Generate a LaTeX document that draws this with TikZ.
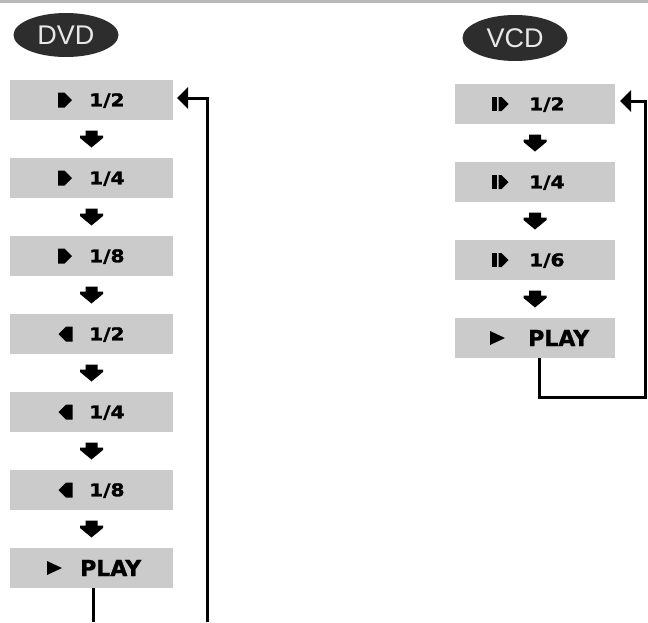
\documentclass[tikz,border=0pt]{standalone}
\usepackage{fontspec}
\setmainfont{DejaVu Sans}
\newfontfamily\ovalfont{Liberation Sans}
\newfontfamily\fracfont[FakeStretch=1.15,FakeBold=1.6]{DejaVu Sans}
\newfontfamily\playfont[FakeBold=1.2]{DejaVu Sans}
\usetikzlibrary{arrows.meta,calc,shapes.geometric}
\definecolor{boxgray}{RGB}{203,203,203}
\definecolor{ovalgray}{RGB}{45,45,45}
\definecolor{ovaltext}{RGB}{232,232,232}
\definecolor{bandgray}{RGB}{185,185,185}
\begin{document}
\begin{tikzpicture}[x=1pt,y=-1pt,
  dvdbox/.style={fill=boxgray,minimum width=163pt,minimum height=40pt,inner sep=0pt,outer sep=0pt},
  vcdbox/.style={fill=boxgray,minimum width=160pt,minimum height=40pt,inner sep=0pt,outer sep=0pt},
  oval/.style={ellipse,fill=ovalgray,text=ovaltext,inner sep=0pt,font=\ovalfont\fontsize{27}{27}\selectfont},
  frac/.style={anchor=west,inner sep=0pt,text height=12.5pt,text depth=0pt,font=\fracfont\bfseries\fontsize{17.5}{17.5}\selectfont},
  playtxt/.style={anchor=west,inner sep=0pt,text height=16pt,text depth=0pt,font=\playfont\bfseries\fontsize{22}{22}\selectfont},
  conn/.style={line width=3pt,draw=black},
  tip/.style={-{Triangle[length=11pt,width=21pt]}}
]
\useasboundingbox (0,0) rectangle (648,622);
\fill[bandgray] (0,0) rectangle (648,2.5);

% ovals
\node[oval,minimum width=105pt,minimum height=44pt] (dvd) at (66,35) {DVD};
\node[oval,minimum width=105pt,minimum height=46pt] (vcd) at (515,38) {VCD};

% DVD boxes
\foreach \i/\y in {1/100,2/178,3/256,4/334,5/412,6/490,7/568}
  \node[dvdbox] (d\i) at (91.5,\y) {};
\node[frac] (d1t) at (89,100) {1/2};
\node[frac] (d2t) at (89,178) {1/4};
\node[frac] (d3t) at (89,256) {1/8};
\node[frac] (d4t) at (89,334) {1/2};
\node[frac] (d5t) at (89,412) {1/4};
\node[frac] (d6t) at (89,490) {1/8};
\node[playtxt] (d7t) at (80,568) {PLAY};
% DVD symbols
\foreach \i in {1,2,3}
  \fill[shift={(d\i.center)},xshift=-33.5pt] (0,-7.5) -- (6.5,-7.5) -- (14,0) -- (6.5,7.5) -- (0,7.5) -- cycle;
\foreach \i in {4,5,6}
  \fill[shift={(d\i.center)},xshift=-19pt] (0,-7.5) -- (-6.5,-7.5) -- (-14,0) -- (-6.5,7.5) -- (0,7.5) -- cycle;
\fill[shift={(d7.center)},xshift=-44.5pt] (0,-7) -- (15,0) -- (0,7) -- cycle;

% VCD boxes
\foreach \i/\y in {1/104,2/182,3/260,4/338}
  \node[vcdbox] (v\i) at (535,\y) {};
\node[frac] (v1t) at (529,104) {1/2};
\node[frac] (v2t) at (529,182) {1/4};
\node[frac] (v3t) at (529,260) {1/6};
\node[playtxt] (v4t) at (528,338) {PLAY};
\foreach \i in {1,2,3}{
  \fill[shift={(v\i.center)},xshift=-43pt] (0,-7) rectangle (4.5,7);
  \fill[shift={(v\i.center)},xshift=-43pt] (6.5,-7) -- (9.5,-7) -- (16.5,0) -- (9.5,7) -- (6.5,7) -- cycle;
}
\fill[shift={(v4.center)},xshift=-45pt] (0,-7) -- (15,0) -- (0,7) -- cycle;

% down arrows between boxes
\foreach \a/\b in {d1/d2,d2/d3,d3/d4,d4/d5,d5/d6,d6/d7,v1/v2,v2/v3,v3/v4}{
  \path (\a.south) -- (\b.north) coordinate[midway] (m\a);
  \fill[shift={(m\a)}] (-6,-8.5) -- (6,-8.5) -- (6,-3.5) -- (11.5,-3.5) -- (11.5,-1)
     -- (0,8.5) -- (-11.5,-1) -- (-11.5,-3.5) -- (-6,-3.5) -- cycle;
}

% DVD connectors
\coordinate (dplayend) at (93.5,622);
\coordinate (dretstart) at (207,622);
\draw[conn] ([xshift=2pt]d7.south) -- (dplayend);
\draw[conn,tip] (dretstart) |- ([xshift=4pt,yshift=2pt]d1.east);

% VCD connectors
\coordinate (vcorner) at (645,397);
\draw[conn,tip] ([xshift=4pt]v4.south) |- (vcorner) |- ([xshift=5pt,yshift=3pt]v1.east);
\end{tikzpicture}
\end{document}
